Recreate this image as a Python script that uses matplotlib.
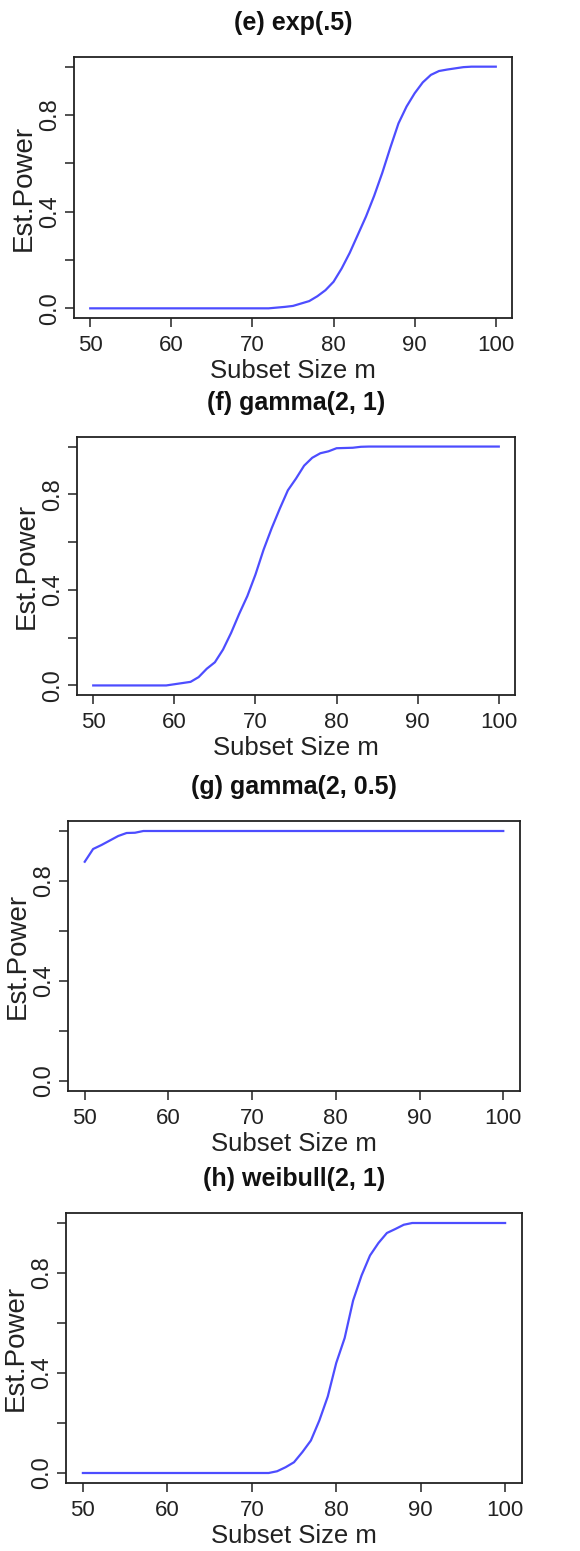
import numpy as np
import matplotlib
matplotlib.use("Agg")
import matplotlib.pyplot as plt

plt.rcParams['font.family'] = ['Liberation Sans', 'DejaVu Sans']

# subset sizes m = 50..100
m = np.arange(50, 101)

# estimated power
power_exp = [0.0] * 23 + [0.003, 0.006, 0.01, 0.02, 0.03, 0.05, 0.075, 0.11, 0.165,
             0.23, 0.305, 0.38, 0.465, 0.56, 0.665, 0.765, 0.835, 0.89, 0.935,
             0.966, 0.982, 0.988, 0.993, 0.998, 1.0, 1.0, 1.0, 1.0]
power_gamma21 = [0.0] * 10 + [0.005, 0.01, 0.015, 0.035, 0.07, 0.097, 0.15, 0.22,
                 0.30, 0.374, 0.464, 0.568, 0.658, 0.74, 0.817, 0.866, 0.92,
                 0.953, 0.972, 0.98, 0.993, 0.994, 0.995, 0.999] + [1.0] * 17
power_gamma205 = [0.877, 0.928, 0.944, 0.962, 0.98, 0.992, 0.993] + [1.0] * 44
power_weibull = [0.0] * 23 + [0.007, 0.023, 0.043, 0.084, 0.13, 0.21, 0.306, 0.44,
                 0.54, 0.69, 0.79, 0.87, 0.92, 0.96, 0.976, 0.993] + [1.0] * 12

titles = ["(e) exp(.5)", "(f) gamma(2, 1)", "(g) gamma(2, 0.5)", "(h) weibull(2, 1)"]
series = [power_exp, power_gamma21, power_gamma205, power_weibull]

W, H = 580, 1551
fig = plt.figure(figsize=(W / 100, H / 100), dpi=100)

# plot boxes in pixels: left, right, top, bottom
boxes = [(74, 512, 57, 318), (77, 515, 437, 695), (68, 520, 821, 1091), (66, 522, 1213, 1483)]

for (l, r, t, b), title, y in zip(boxes, titles, series):
    ax = fig.add_axes([l / W, 1 - b / H, (r - l) / W, (b - t) / H])
    ax.plot(m, y, color="#4d4dff", lw=1.6)
    ax.set_xlim(48, 102)
    ax.set_ylim(-0.04, 1.04)
    ax.set_xticks([50, 60, 70, 80, 90, 100])
    ax.set_yticks([0, 0.2, 0.4, 0.6, 0.8, 1.0])
    ax.set_yticklabels(["0.0", "", "0.4", "", "0.8", ""], rotation=90, va="center")
    ax.tick_params(direction="out", length=6.5, width=1.1, colors="#222222")
    ax.tick_params(axis="x", pad=6, labelsize=16)
    ax.tick_params(axis="y", pad=3, labelsize=17)
    for s in ax.spines.values():
        s.set_linewidth(1.3)
        s.set_color("#222222")
    hpx, wpx = b - t, r - l
    ax.set_xlabel("Subset Size m", fontsize=18.5, color="#222222")
    ax.xaxis.label.set_va("center")
    ax.xaxis.set_label_coords(0.5, -53 / hpx)
    ax.set_ylabel("Est.Power", fontsize=20, color="#222222")
    ax.yaxis.label.set_va("center")
    ax.yaxis.set_label_coords(-50 / wpx, 0.5)
    ax.text(0.5, 1 + 34 / hpx, title, transform=ax.transAxes, ha="center",
            va="center", fontsize=18, fontweight="bold", color="#111111")

fig.savefig("out.png", dpi=100)
